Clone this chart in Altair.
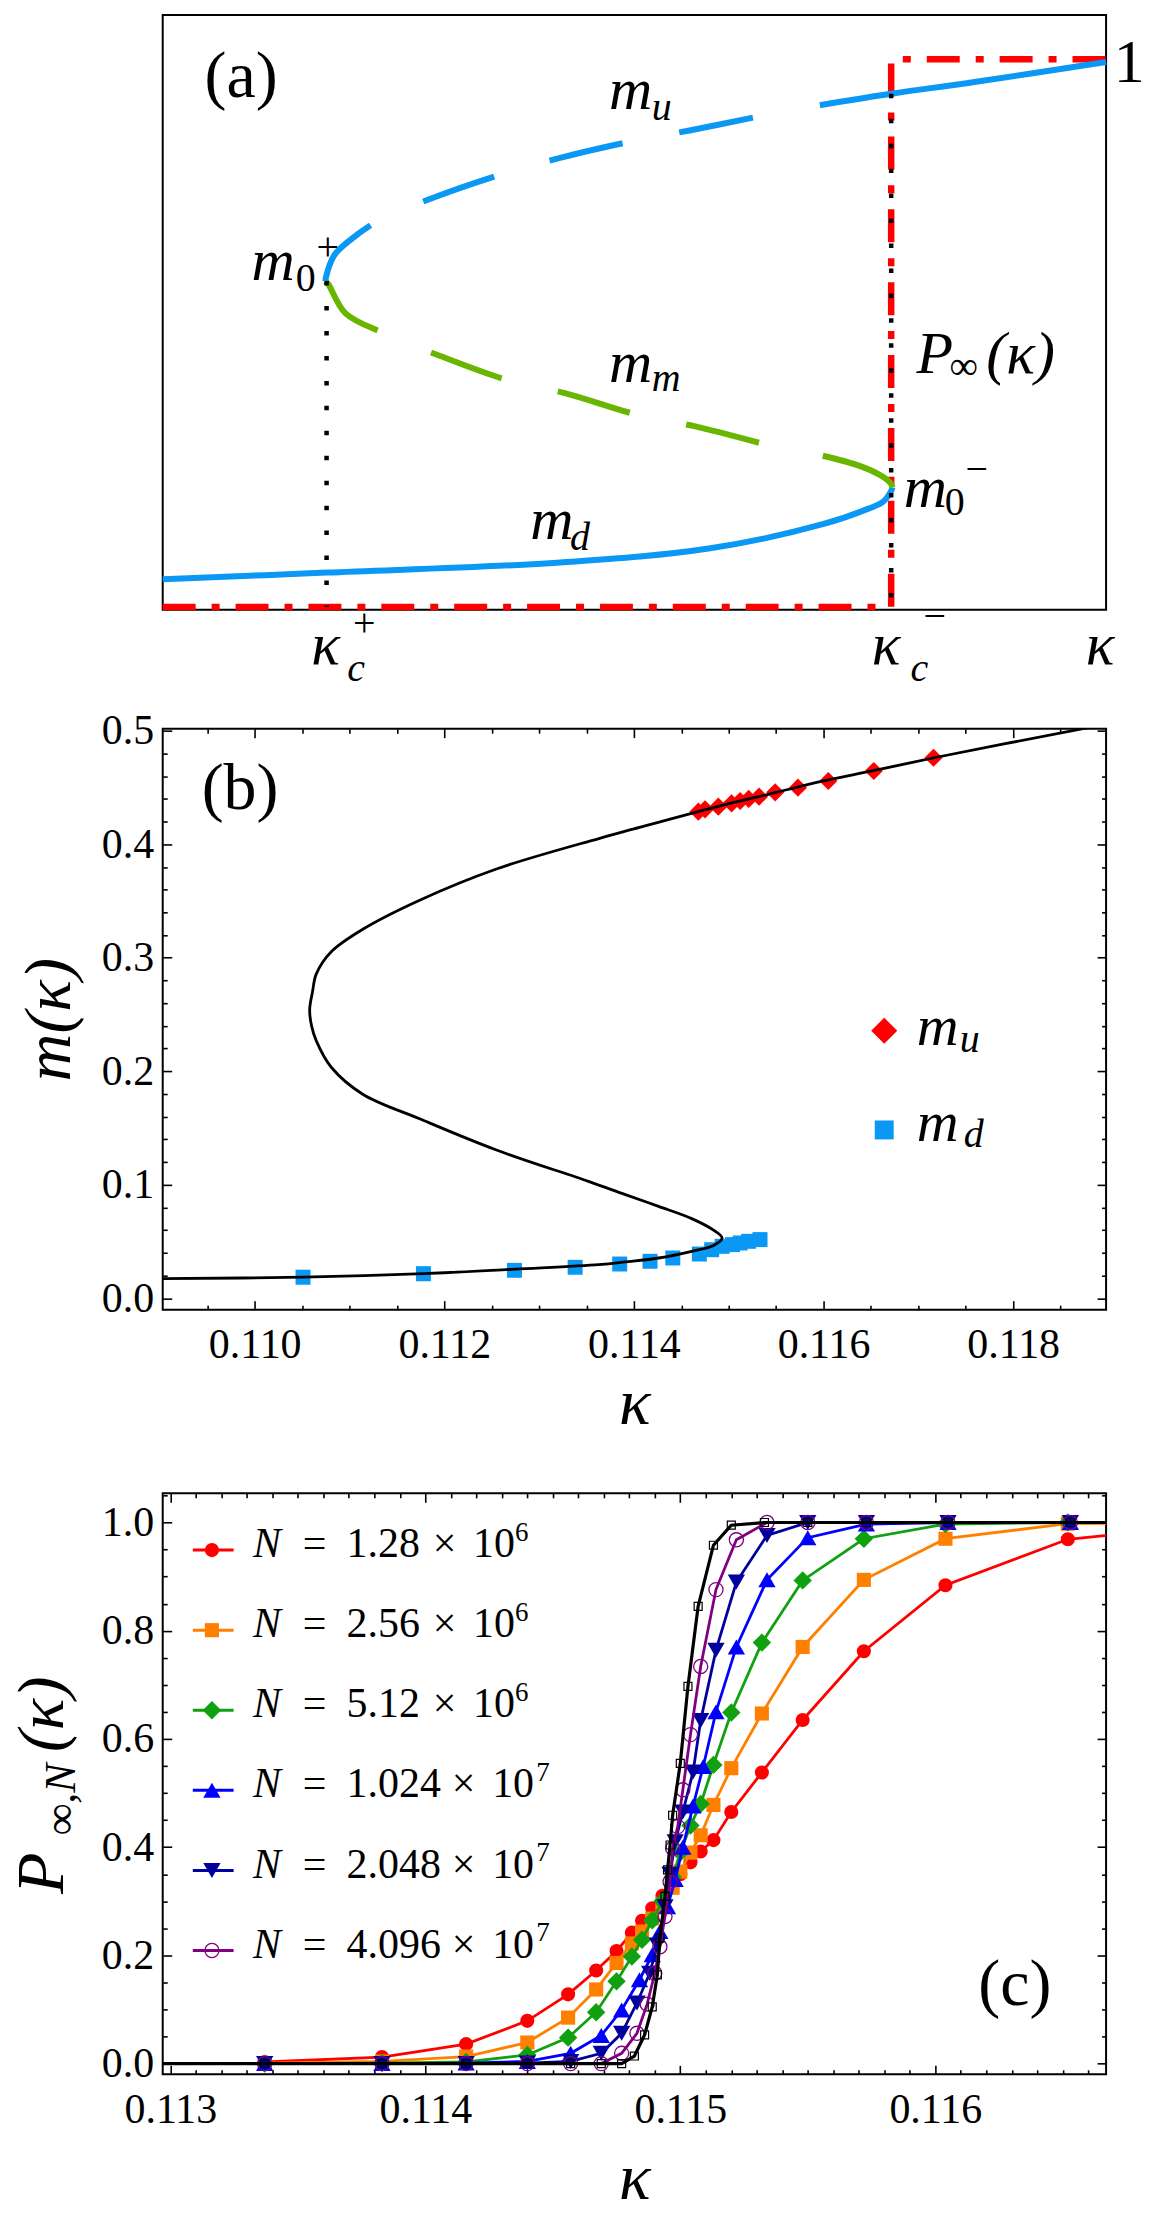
import altair as alt
import pandas as pd

FONT = "Liberation Serif, Times New Roman, serif"
W = 945
HA, HB, HC = 596, 582, 582
GAP_AB, GAP_BC = 119, 184

SKY = "#0A98F4"
LIME = "#68B600"
RED = "#FF0000"
ORANGE = "#FF8000"
GREEN = "#10A010"
BLUE = "#0000FF"
NAVY = "#00009E"
PURPLE = "#800080"

# ---------------- Panel (a): schematic (arbitrary units) ----------------
A_MU_DASH_X = [0.1725, 0.1729, 0.1818, 0.1959, 0.2302, 0.2867, 0.3614, 0.4213, 0.4968, 0.5584, 0.6361]
A_MU_DASH_Y = [0.595, 0.601, 0.642, 0.666, 0.707, 0.747, 0.791, 0.820, 0.850, 0.870, 0.897]
A_MU_SOLID_X = [0.6966, 0.7722, 0.8588, 1.0]
A_MU_SOLID_Y = [0.916, 0.937, 0.958, 0.995]
A_MM_DASH_X = [0.1725, 0.1757, 0.1938, 0.2342, 0.2928, 0.3675, 0.4272, 0.5029, 0.5634, 0.6401]
A_MM_DASH_Y = [0.595, 0.589, 0.536, 0.500, 0.459, 0.413, 0.390, 0.351, 0.330, 0.296]
A_MM_SOLID_X = [0.6997, 0.7394, 0.7630, 0.7720, 0.7735]
A_MM_SOLID_Y = [0.276, 0.257, 0.238, 0.225, 0.218]
A_MD_X = [0.0, 0.1737, 0.4213, 0.5804, 0.6997, 0.7474, 0.7636, 0.7722, 0.7735]
A_MD_Y = [0.0503, 0.0627, 0.0811, 0.107, 0.151, 0.179, 0.192, 0.212, 0.218]
A_PINF_X = [0.0, 0.7722, 0.7722, 1.0]
A_PINF_Y = [0.0, 0.0, 1.0, 1.0]
KC_PLUS, KC_MINUS = 0.1737, 0.7722

A_BIG_ITALIC = [("m", 0.473, 0.909), ("m", 0.473, 0.410), ("m", 0.3897, 0.1234),
                ("m", 0.0940, 0.597), ("m", 0.7854, 0.1833), ("P", 0.799, 0.428),
                ("(κ)", 0.873, 0.428), ("κ", 0.1575, -0.1035), ("κ", 0.7516, -0.1035),
                ("κ", 0.9785, -0.1035)]
A_SMALL_ITALIC = [("u", 0.5184, 0.890), ("m", 0.5184, 0.394), ("d", 0.4318, 0.1035),
                  ("c", 0.1955, -0.136), ("c", 0.7927, -0.136)]
A_SMALL_UPRIGHT = [("0", 0.1410, 0.577), ("+", 0.1630, 0.634), ("0", 0.8290, 0.167),
                   ("−", 0.8510, 0.2287), ("+", 0.2018, -0.0526), ("−", 0.8064, -0.0409),
                   ("∞", 0.834, 0.4157)]
A_BIG_UPRIGHT = [("1", 1.008, 0.958)]
A_PANEL = [("(a)", 0.0444, 0.968)]

# ---------------- Panel (b) ----------------
B_CURVE_K = [0.10900, 0.11051, 0.11178, 0.11275, 0.11363, 0.11391, 0.11426, 0.11461, 0.11484, 0.11493,
             0.11484, 0.11461, 0.11426, 0.11391, 0.11352, 0.11255, 0.11174, 0.11114, 0.11081, 0.11065,
             0.11060, 0.11058, 0.11061, 0.11065, 0.11081, 0.11114, 0.11174, 0.11255, 0.11363, 0.11400,
             0.11488, 0.11547, 0.11599, 0.11651, 0.11718, 0.11875, 0.11900]
B_CURVE_M = [0.0173, 0.0186, 0.0217, 0.0257, 0.0296, 0.0320, 0.0355, 0.0414, 0.0465, 0.0531,
             0.0600, 0.0702, 0.0810, 0.0913, 0.1030, 0.1306, 0.1581, 0.1798, 0.2033, 0.2268,
             0.2400, 0.2544, 0.2700, 0.2858, 0.3055, 0.3251, 0.3507, 0.3782, 0.4050, 0.4135,
             0.4332, 0.4450, 0.4555, 0.4646, 0.4764, 0.5020, 0.5060]
B_MU_K = [0.11468, 0.11475, 0.11489, 0.11503, 0.11512, 0.11521, 0.11532, 0.11549, 0.11573, 0.11605, 0.11653, 0.11716]
B_MU_M = [0.4287, 0.4307, 0.4331, 0.4360, 0.4381, 0.4399, 0.4419, 0.4457, 0.4498, 0.4557, 0.4645, 0.4762]
B_MD_K = [0.11051, 0.11178, 0.11274, 0.11338, 0.11385, 0.11417, 0.11441, 0.11469, 0.11482, 0.11493, 0.11504, 0.11512, 0.11521, 0.11533]
B_MD_M = [0.0186, 0.0217, 0.0246, 0.0273, 0.0302, 0.0326, 0.0355, 0.0390, 0.0428, 0.0458, 0.0473, 0.0487, 0.0502, 0.0517]
B_LEG_MARK = [(0.11664, 0.2356), (0.11664, 0.1483)]
B_LEG_BIG = [("m", 0.116983, 0.2227), ("m", 0.116983, 0.1382)]
B_LEG_SUB = [("u", 0.117437, 0.2174), ("d", 0.117479, 0.1329)]
B_PANEL = [("(b)", 0.109441, 0.449)]

# ---------------- Panel (c) ----------------
C_NAMES = ["1.28e6", "2.56e6", "5.12e6", "1.024e7", "2.048e7", "4.096e7"]
C_MANT = ["1.28", "2.56", "5.12", "1.024", "2.048", "4.096"]
C_EXP = ["6", "6", "6", "7", "7", "7"]
C_COLORS = [RED, ORANGE, GREEN, BLUE, NAVY, PURPLE]
C_SHAPES = ["circle", "square", "diamond", "triangle-up", "triangle-down", "circle"]
C_SIZES = [200, 200, 340, 300, 300, 200]
C_FILLED = [True, True, True, True, True, False]

K_COMMON = [0.11337, 0.11383, 0.11416, 0.11440, 0.11456, 0.11467, 0.11475, 0.11481, 0.11485, 0.11489,
            0.11493, 0.11497, 0.11500, 0.11504, 0.11508, 0.11513, 0.11520, 0.11532, 0.11548, 0.11572,
            0.11604, 0.11652, 0.11700]
P_RED = [0.003, 0.012, 0.036, 0.079, 0.128, 0.172, 0.208, 0.242, 0.264, 0.287,
         0.310, 0.330, 0.350, 0.372, 0.392, 0.413, 0.465, 0.538, 0.635, 0.762,
         0.884, 0.969, 0.992]
P_ORANGE = [0.001, 0.004, 0.013, 0.039, 0.085, 0.137, 0.186, 0.222, 0.244, 0.268,
            0.295, 0.325, 0.355, 0.390, 0.422, 0.478, 0.546, 0.647, 0.770, 0.894,
            0.970, 0.998, 1.0]
P_GREEN = [0.0, 0.001, 0.003, 0.016, 0.048, 0.095, 0.152, 0.198, 0.229, 0.265,
           0.300, 0.345, 0.390, 0.440, 0.480, 0.552, 0.649, 0.778, 0.893, 0.970,
           0.997, 1.0, 1.0]
K_BLUE = [0.11337, 0.11383, 0.11416, 0.11440, 0.11457, 0.11469, 0.11477, 0.11484, 0.11489, 0.11492,
          0.11495, 0.11498, 0.11501, 0.11505, 0.11509, 0.11514, 0.11522, 0.11534, 0.11550, 0.11573,
          0.11605, 0.11653, 0.11700]
P_BLUE = [0.0, 0.0, 0.001, 0.004, 0.019, 0.052, 0.099, 0.155, 0.201, 0.244,
          0.290, 0.340, 0.400, 0.476, 0.549, 0.650, 0.770, 0.894, 0.972, 0.997,
          1.0, 1.0, 1.0]
K_NAVY = [0.11337, 0.11383, 0.11416, 0.11440, 0.11457, 0.11469, 0.11477, 0.11483, 0.11488, 0.11491,
          0.11494, 0.11496, 0.11498, 0.11501, 0.11505, 0.11508, 0.11514, 0.11522, 0.11534, 0.11550,
          0.11573, 0.11605, 0.11653, 0.11700]
P_NAVY = [0.0, 0.0, 0.0, 0.001, 0.004, 0.019, 0.056, 0.112, 0.167, 0.219,
          0.290, 0.350, 0.410, 0.465, 0.539, 0.634, 0.764, 0.890, 0.976, 1.0,
          1.0, 1.0, 1.0, 1.0]
K_PURPLE = [0.11337, 0.11383, 0.11416, 0.11440, 0.11457, 0.11469, 0.11477, 0.11483, 0.11487, 0.11490,
            0.11492, 0.11494, 0.11496, 0.11497, 0.11499, 0.11501, 0.11504, 0.11508, 0.11514, 0.11522,
            0.11534, 0.11550, 0.11573, 0.11605, 0.11653, 0.11700]
P_PURPLE = [0.0, 0.0, 0.0, 0.0, 0.0, 0.0, 0.019, 0.056, 0.110, 0.167,
            0.216, 0.272, 0.336, 0.398, 0.438, 0.506, 0.608, 0.734, 0.876, 0.968,
            1.0, 1.0, 1.0, 1.0, 1.0, 1.0]
K_BLACK = [0.11280, 0.11337, 0.11383, 0.11416, 0.11440, 0.11457, 0.11469, 0.11477, 0.11482, 0.11486,
           0.11489, 0.11491, 0.11492, 0.11494, 0.11495, 0.11496, 0.11497, 0.11500, 0.11503, 0.11507,
           0.11513, 0.11520, 0.11533, 0.11550, 0.11573, 0.11605, 0.11653, 0.11700]
P_BLACK = [0.0, 0.0, 0.0, 0.0, 0.0, 0.0, 0.0, 0.0, 0.014, 0.053,
           0.105, 0.164, 0.232, 0.309, 0.358, 0.404, 0.459, 0.555, 0.697, 0.845,
           0.958, 0.995, 1.0, 1.0, 1.0, 1.0, 1.0, 1.0]
C_K = [K_COMMON, K_COMMON, K_COMMON, K_BLUE, K_NAVY, K_PURPLE]
C_P = [P_RED, P_ORANGE, P_GREEN, P_BLUE, P_NAVY, P_PURPLE]
C_PANEL = [("(c)", 0.116169, 0.1455)]
C_YTITLE = [("P", 0.112580, 0.3135, 68), ("∞,N", 0.112624, 0.4225, 44), ("(κ)", 0.112580, 0.5757, 66)]


def sc(domain):
    return alt.Scale(domain=domain, nice=False, zero=False)


XA, YA = sc([0, 1]), sc([-0.0054, 1.081])
XB, YB = sc([0.10903, 0.11898]), sc([-0.0100, 0.5018])
XC, YC = sc([0.11297, 0.11667]), sc([-0.0198, 1.0539])


def enc_xy(xs, ys, xf="x", yf="y", xaxis=None, yaxis=None):
    return dict(x=alt.X(f"{xf}:Q", scale=xs, axis=xaxis), y=alt.Y(f"{yf}:Q", scale=ys, axis=yaxis))


def text_layer(rows, xs, ys, size, italic=False, align="left", baseline="alphabetic", angle=None):
    df = pd.DataFrame(rows, columns=["t", "x", "y"])
    props = dict(font=FONT, fontSize=size, align=align, baseline=baseline, color="black")
    if italic:
        props["fontStyle"] = "italic"
    if angle is not None:
        props["angle"] = angle
    return alt.Chart(df).mark_text(**props).encode(text="t:N", **enc_xy(xs, ys))


def path_layer(xv, yv, xs, ys, color, width, dash=None, clip=False, interp="linear"):
    df = pd.DataFrame({"x": xv, "y": yv, "i": list(range(len(xv)))})
    props = dict(color=color, strokeWidth=width, clip=clip, interpolate=interp)
    if dash is not None:
        props["strokeDash"] = dash
    return alt.Chart(df).mark_line(**props).encode(order=alt.Order("i:Q"), **enc_xy(xs, ys))


def mk_axis(orient, values, mult, fmt, labels, title=None, title_pad=0, label_pad=0):
    test = f"abs(datum.value*{mult} - round(datum.value*{mult})) < 0.02"
    kw = dict(orient=orient, values=values, domain=False, grid=False, ticks=True,
              tickSize={"condition": {"test": test, "value": -9}, "value": -4.5},
              tickColor="black", tickWidth=1.6, labels=labels, title=title)
    if labels:
        kw.update(labelExpr=f"({test}) ? format(datum.value, '{fmt}') : ''", labelFont=FONT,
                  labelFontSize=42, labelColor="black", labelPadding=label_pad,
                  labelOverlap=False, labelFlush=False)
    if title:
        kw.update(titleFont=FONT, titleFontSize=66, titleFontStyle="italic", titleFontWeight="normal",
                  titleColor="black", titlePadding=title_pad)
    return alt.Axis(**kw)


# ---------------- build panel (a) ----------------
CR = "catmull-rom"
red_step = path_layer(A_PINF_X, A_PINF_Y, XA, YA, RED, 6.5, dash=[33, 16, 8, 16])
md = path_layer(A_MD_X, A_MD_Y, XA, YA, SKY, 6, interp=CR)
mm_d = path_layer(A_MM_DASH_X, A_MM_DASH_Y, XA, YA, LIME, 6, dash=[75, 58], interp=CR)
mm_s = path_layer(A_MM_SOLID_X, A_MM_SOLID_Y, XA, YA, LIME, 6, interp=CR)
mu_d = path_layer(A_MU_DASH_X, A_MU_DASH_Y, XA, YA, SKY, 6, dash=[75, 58], interp=CR)
mu_s = path_layer(A_MU_SOLID_X, A_MU_SOLID_Y, XA, YA, SKY, 6, interp=CR)
dots_df = pd.DataFrame({"x": [KC_PLUS, KC_MINUS], "y": [A_MU_DASH_Y[0], A_MU_SOLID_Y[1]], "y2": [0.0, 0.0]})
dots = alt.Chart(dots_df).mark_rule(color="black", strokeWidth=4.5, strokeDash=[4.5, 20.5]).encode(
    y2="y2:Q", **enc_xy(XA, YA))

panel_a = alt.layer(
    red_step, md, mm_d, mm_s, mu_d, mu_s, dots,
    text_layer(A_BIG_ITALIC, XA, YA, 60, italic=True),
    text_layer(A_SMALL_ITALIC, XA, YA, 40, italic=True),
    text_layer(A_SMALL_UPRIGHT, XA, YA, 40),
    text_layer(A_BIG_UPRIGHT, XA, YA, 62),
    text_layer(A_PANEL, XA, YA, 66, baseline="middle"),
).properties(width=W, height=HA)

# ---------------- build panel (b) ----------------
XB_TICKS = [round(0.1090 + 0.0005 * i, 4) for i in range(1, 20)]
YB_TICKS = [round(0.02 * i, 2) for i in range(0, 26)]

sq_df = pd.DataFrame({"x": B_MD_K, "y": B_MD_M})
squares = alt.Chart(sq_df).mark_point(shape="square", filled=True, size=225, color=SKY, opacity=1, clip=True).encode(
    **enc_xy(XB, YB,
             xaxis=mk_axis("bottom", XB_TICKS, 500, ".3f", True, "κ", 2, 24),
             yaxis=mk_axis("left", YB_TICKS, 10, ".1f", True, "m(κ)", 18, 18)))
dia_df = pd.DataFrame({"x": B_MU_K, "y": B_MU_M})
diamonds = alt.Chart(dia_df).mark_point(shape="diamond", filled=True, size=330, color=RED, opacity=1, clip=True).encode(
    **enc_xy(XB, YB,
             xaxis=mk_axis("top", XB_TICKS, 500, ".3f", False),
             yaxis=mk_axis("right", YB_TICKS, 10, ".1f", False)))
curve = path_layer(B_CURVE_K, B_CURVE_M, XB, YB, "black", 2.8, clip=True, interp=CR)
leg_b_df = pd.DataFrame({"x": [p[0] for p in B_LEG_MARK], "y": [p[1] for p in B_LEG_MARK], "s": ["u", "d"]})
leg_b = alt.Chart(leg_b_df).mark_point(filled=True, opacity=1).encode(
    shape=alt.Shape("s:N", scale=alt.Scale(domain=["u", "d"], range=["diamond", "square"]), legend=None),
    color=alt.Color("s:N", scale=alt.Scale(domain=["u", "d"], range=[RED, SKY]), legend=None),
    size=alt.Size("s:N", scale=alt.Scale(domain=["u", "d"], range=[680, 360]), legend=None),
    **enc_xy(XB, YB))

panel_b = alt.layer(
    squares, diamonds, curve, leg_b,
    text_layer(B_LEG_BIG, XB, YB, 58, italic=True),
    text_layer(B_LEG_SUB, XB, YB, 40, italic=True),
    text_layer(B_PANEL, XB, YB, 66, baseline="middle"),
).resolve_axis(x="independent", y="independent").properties(width=W, height=HB)

# ---------------- build panel (c) ----------------
XC_TICKS = [round(0.1130 + 0.0001 * i, 4) for i in range(0, 37)]
YC_TICKS = [round(0.05 * i, 2) for i in range(0, 22)]

c_layers = []
row_p = [0.949 - 0.148 * i for i in range(len(C_NAMES))]
for idx, name in enumerate(C_NAMES):
    df = pd.DataFrame({"x": C_K[idx], "y": C_P[idx]})
    col = C_COLORS[idx]
    if idx == 0:
        xa_ = mk_axis("bottom", XC_TICKS, 1000, ".3f", True, "κ", 12, 24)
        ya_ = mk_axis("left", YC_TICKS, 5, ".1f", True, None, 0, 18)
    elif idx == 1:
        xa_ = mk_axis("top", XC_TICKS, 1000, ".3f", False)
        ya_ = mk_axis("right", YC_TICKS, 5, ".1f", False)
    else:
        xa_, ya_ = None, None
    line = alt.Chart(df).mark_line(color=col, strokeWidth=2.8, clip=True).encode(
        **enc_xy(XC, YC, xaxis=xa_, yaxis=ya_))
    pprops = dict(shape=C_SHAPES[idx], size=C_SIZES[idx], filled=C_FILLED[idx], color=col, opacity=1, clip=True)
    if not C_FILLED[idx]:
        pprops["strokeWidth"] = 1.3
    pts = alt.Chart(df).mark_point(**pprops).encode(**enc_xy(XC, YC))
    lg = pd.DataFrame({"x": [0.113088], "x2": [0.113248], "xm": [0.113163], "y": [row_p[idx]]})
    lg_line = alt.Chart(lg).mark_rule(color=col, strokeWidth=3).encode(x2="x2:Q", **enc_xy(XC, YC))
    lg_pt = alt.Chart(lg).mark_point(**{k: v for k, v in pprops.items() if k != "clip"}).encode(**enc_xy(XC, YC, xf="xm"))
    c_layers += [line, pts, lg_line, lg_pt]

blk_df = pd.DataFrame({"x": K_BLACK, "y": P_BLACK})
blk_line = alt.Chart(blk_df).mark_line(color="black", strokeWidth=3.2, clip=True).encode(**enc_xy(XC, YC))
blk_pts = alt.Chart(blk_df).mark_point(shape="square", size=64, filled=False, color="black", strokeWidth=1.2,
                                       opacity=1, clip=True).encode(**enc_xy(XC, YC))
c_layers += [blk_line, blk_pts]

leg_rows = []
for i, (m, e) in enumerate(zip(C_MANT, C_EXP)):
    long = len(m) > 4
    leg_rows.append(dict(n="N", eq="=", m=m, times="×", ten="10", e=e,
                         y=row_p[i] - 0.0132, ye=row_p[i] + 0.0175,
                         xn=0.113324, xeq=0.113519, xm=0.113691,
                         xt=0.114104 if long else 0.114029,
                         x10=0.114262 if long else 0.114187,
                         xe=0.114435 if long else 0.114352))
leg_df = pd.DataFrame(leg_rows)


def leg_text(field, xfield, yfield, size, italic=False):
    props = dict(font=FONT, fontSize=size, align="left", baseline="alphabetic", color="black")
    if italic:
        props["fontStyle"] = "italic"
    return alt.Chart(leg_df).mark_text(**props).encode(text=f"{field}:N", **enc_xy(XC, YC, xf=xfield, yf=yfield))


c_layers += [
    leg_text("n", "xn", "y", 42, italic=True),
    leg_text("eq", "xeq", "y", 42),
    leg_text("m", "xm", "y", 42),
    leg_text("times", "xt", "y", 42),
    leg_text("ten", "x10", "y", 42),
    leg_text("e", "xe", "ye", 27),
    text_layer(C_PANEL, XC, YC, 66, baseline="middle"),
]
for t, x, y, s in C_YTITLE:
    c_layers.append(text_layer([(t, x, y)], XC, YC, s, italic=True, angle=270))

panel_c = alt.layer(*c_layers).resolve_axis(x="independent", y="independent").properties(width=W, height=HC)


def spacer(h):
    return alt.Chart(pd.DataFrame({"v": [0]})).mark_point(opacity=0).encode(
        x=alt.X("v:Q", axis=None), y=alt.Y("v:Q", axis=None)
    ).properties(width=W, height=h, view=alt.ViewBackground(strokeOpacity=0))


chart = alt.vconcat(panel_a, spacer(GAP_AB), panel_b, spacer(GAP_BC), panel_c, spacing=0, bounds="flush").properties(
    padding={"left": 8, "top": 12, "right": 5, "bottom": 2}, background="white"
).configure_view(stroke="black", strokeWidth=2)

chart.save("out.html", embed_options={"renderer": "svg", "actions": False})
